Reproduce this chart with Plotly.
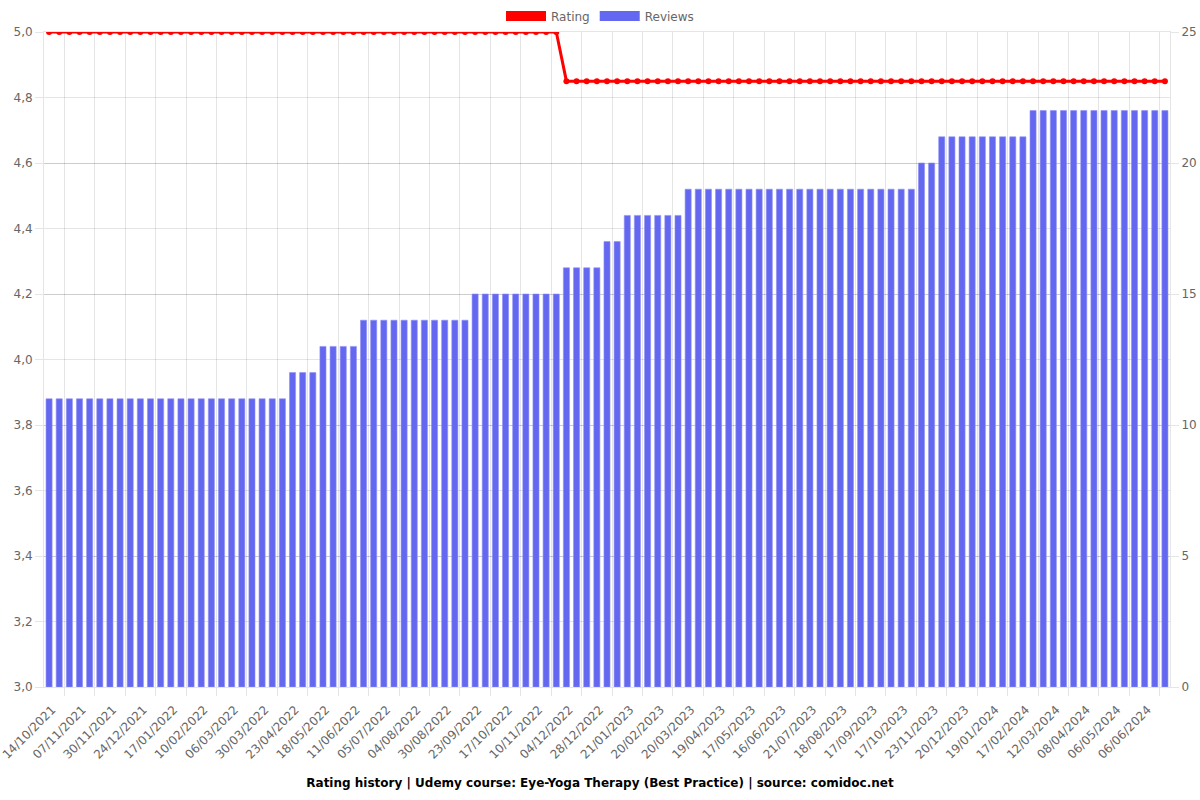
import plotly.graph_objects as go

tick_labels = ["14/10/2021", "07/11/2021", "30/11/2021", "24/12/2021", "17/01/2022", "10/02/2022",
               "06/03/2022", "30/03/2022", "23/04/2022", "18/05/2022", "11/06/2022", "05/07/2022",
               "04/08/2022", "30/08/2022", "23/09/2022", "17/10/2022", "10/11/2022", "04/12/2022",
               "28/12/2022", "21/01/2023", "20/02/2023", "20/03/2023", "19/04/2023", "17/05/2023",
               "16/06/2023", "21/07/2023", "18/08/2023", "17/09/2023", "17/10/2023", "23/11/2023",
               "20/12/2023", "19/01/2024", "17/02/2024", "12/03/2024", "08/04/2024", "06/05/2024",
               "06/06/2024"]

reviews = [11, 11, 11, 11, 11, 11, 11, 11, 11, 11, 11, 11, 11, 11, 11, 11, 11, 11, 11, 11, 11, 11, 11, 11,
           12, 12, 12,
           13, 13, 13, 13,
           14, 14, 14, 14, 14, 14, 14, 14, 14, 14, 14,
           15, 15, 15, 15, 15, 15, 15, 15, 15,
           16, 16, 16, 16,
           17, 17,
           18, 18, 18, 18, 18, 18,
           19, 19, 19, 19, 19, 19, 19, 19, 19, 19, 19, 19, 19, 19, 19, 19, 19, 19, 19, 19, 19, 19, 19,
           20, 20,
           21, 21, 21, 21, 21, 21, 21, 21, 21,
           22, 22, 22, 22, 22, 22, 22, 22, 22, 22, 22, 22, 22, 22]

rating = [5.0, 5.0, 5.0, 5.0, 5.0, 5.0, 5.0, 5.0, 5.0, 5.0, 5.0, 5.0, 5.0, 5.0, 5.0, 5.0, 5.0, 5.0,
          5.0, 5.0, 5.0, 5.0, 5.0, 5.0, 5.0, 5.0, 5.0, 5.0, 5.0, 5.0, 5.0, 5.0, 5.0, 5.0, 5.0, 5.0,
          5.0, 5.0, 5.0, 5.0, 5.0, 5.0, 5.0, 5.0, 5.0, 5.0, 5.0, 5.0, 5.0, 5.0, 5.0,
          4.85, 4.85, 4.85, 4.85, 4.85, 4.85, 4.85, 4.85, 4.85, 4.85, 4.85, 4.85, 4.85, 4.85, 4.85,
          4.85, 4.85, 4.85, 4.85, 4.85, 4.85, 4.85, 4.85, 4.85, 4.85, 4.85, 4.85, 4.85, 4.85, 4.85,
          4.85, 4.85, 4.85, 4.85, 4.85, 4.85, 4.85, 4.85, 4.85, 4.85, 4.85, 4.85, 4.85, 4.85, 4.85,
          4.85, 4.85, 4.85, 4.85, 4.85, 4.85, 4.85, 4.85, 4.85, 4.85, 4.85, 4.85, 4.85, 4.85, 4.85]

label_step = 3
x_idx = list(range(len(reviews)))
tick_positions = x_idx[::label_step][:len(tick_labels)]

RED = "#ff0000"
BLUE = "#6467f0"
GRID = "rgba(0,0,0,0.1)"
TXT = "#666666"
FONT = "DejaVu Sans"

fig = go.Figure()

fig.add_trace(go.Bar(
    x=x_idx, y=reviews, name="Reviews", yaxis="y",
    marker=dict(color=BLUE, line=dict(color="#8e90f5", width=0.6)),
    showlegend=False,
))
fig.add_trace(go.Scatter(
    x=x_idx, y=rating, name="Rating", yaxis="y2", mode="lines+markers",
    line=dict(color=RED, width=3), marker=dict(color=RED, size=6),
    showlegend=False,
))
# legend entries
fig.add_trace(go.Scatter(x=[None], y=[None], name="Rating", mode="lines",
                         line=dict(color=RED, width=14), yaxis="y2"))
fig.add_trace(go.Scatter(x=[None], y=[None], name="Reviews", mode="lines",
                         line=dict(color=BLUE, width=14), yaxis="y2"))

fig.update_layout(
    width=1200, height=800,
    separators=",.",
    paper_bgcolor="white", plot_bgcolor="white",
    font=dict(family=FONT, size=12, color=TXT),
    margin=dict(l=44, r=30, t=32, b=113, autoexpand=False),
    bargap=0.4,
    showlegend=True,
    legend=dict(orientation="h", x=0.4938, xanchor="center", y=1.0244, yanchor="middle",
                font=dict(family=FONT, size=12, color=TXT), itemwidth=40,
                bgcolor="rgba(0,0,0,0)"),
    title=dict(text="<b>Rating history | Udemy course: Eye-Yoga Therapy (Best Practice) | source: comidoc.net</b>",
               x=0.5, xanchor="center", y=0.021, yref="container", yanchor="middle",
               font=dict(family=FONT, size=12, color="#000000")),
    xaxis=dict(
        range=[-0.5, len(reviews) - 0.5],
        tickmode="array", tickvals=tick_positions, ticktext=tick_labels,
        tickangle=-45, tickfont=dict(size=12, color=TXT),
        ticklabeloverflow="allow", ticklabelstandoff=10, ticklabelshift=3,
        showgrid=False, ticks="", automargin=False,
        showline=True, linecolor=GRID, linewidth=1, mirror=True,
        minor=dict(tick0=1.5, dtick=3, showgrid=True, gridcolor=GRID, ticks="outside",
                   ticklen=8, tickcolor=GRID),
        zeroline=False,
    ),
    yaxis=dict(
        side="right", range=[0, 25], dtick=5, tick0=0,
        showgrid=True, gridcolor=GRID, automargin=False,
        ticks="outside", ticklen=8, tickcolor=GRID,
        tickfont=dict(size=12, color=TXT), zeroline=False,
        showline=True, linecolor=GRID,
    ),
    yaxis2=dict(
        side="left", overlaying="y", range=[3, 5], dtick=0.2, tick0=3,
        tickformat=".1f", automargin=False,
        showgrid=True, gridcolor=GRID,
        ticks="outside", ticklen=8, tickcolor=GRID,
        tickfont=dict(size=12, color=TXT), zeroline=False,
        showline=True, linecolor=GRID,
    ),
)

fig.write_html("out.html",
               config={"displayModeBar": False},
               post_script="document.body.style.margin='0';document.body.style.overflow='hidden';")
